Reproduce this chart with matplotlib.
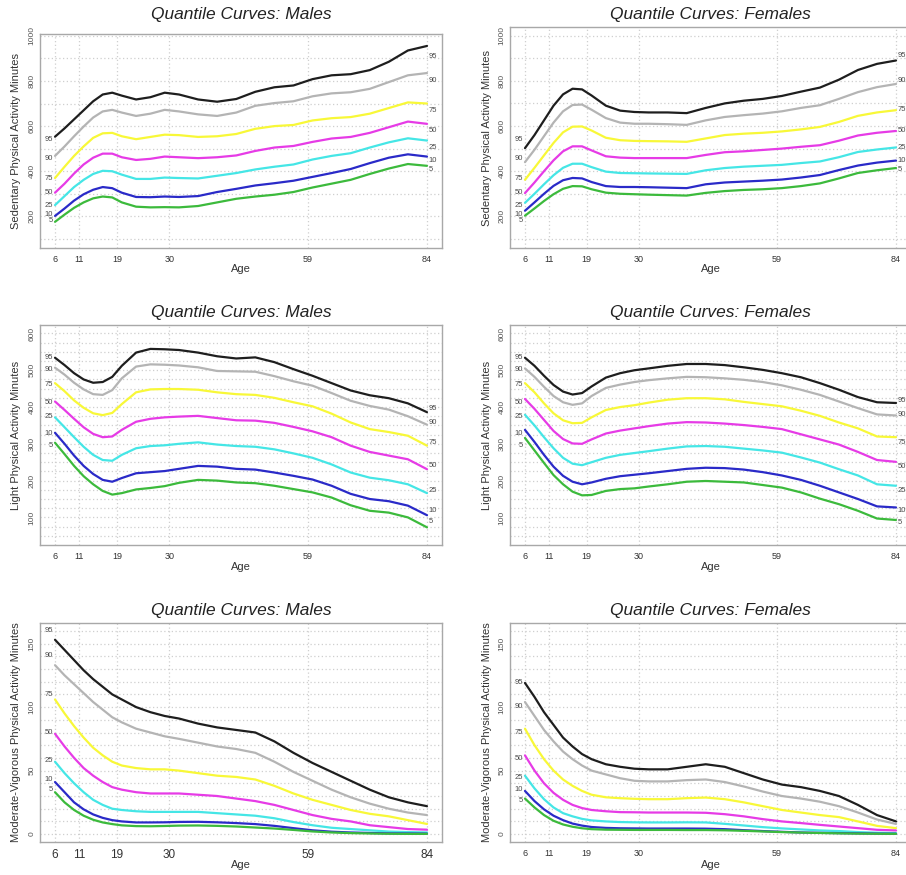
"""
Quantile curves of sedentary, light and moderate-vigorous activity by age and sex
"""

import matplotlib
matplotlib.use('Agg')
import matplotlib.pyplot as plt

plt.rcParams['font.family'] = ['Liberation Sans', 'DejaVu Sans']

# ---- data ----
ages = [6, 8, 10, 12, 14, 16, 18, 20, 23, 26, 29, 32, 36, 40, 44, 48, 52, 56, 60, 64, 68, 72, 76, 80, 84]
quantiles = ['95', '90', '75', '50', '25', '10', '5']
age_ticks = [6, 11, 19, 30, 59, 84]

sed_males = {
    '95': [553, 590, 630, 670, 710, 740, 748, 735, 718, 728, 748, 740, 718, 708, 720, 752, 772, 780, 808, 825, 830, 848, 885, 935, 955],
    '90': [468, 510, 555, 598, 638, 665, 672, 660, 645, 655, 672, 665, 652, 645, 660, 690, 702, 710, 732, 745, 750, 765, 795, 825, 835],
    '75': [370, 420, 468, 510, 548, 568, 570, 555, 542, 552, 562, 560, 552, 555, 565, 588, 600, 605, 625, 635, 640, 655, 680, 705, 700],
    '50': [305, 345, 390, 430, 460, 478, 478, 462, 450, 455, 465, 462, 458, 462, 470, 490, 505, 512, 530, 545, 552, 570, 595, 620, 610],
    '25': [250, 290, 330, 362, 388, 402, 400, 385, 366, 366, 372, 370, 368, 380, 392, 408, 420, 430, 452, 468, 480, 505, 528, 546, 536],
    '10': [202, 235, 270, 298, 318, 330, 325, 305, 286, 285, 288, 286, 290, 308, 322, 337, 347, 358, 375, 392, 410, 436, 460, 475, 465],
    '5':  [176, 208, 238, 262, 280, 288, 284, 262, 243, 240, 241, 240, 246, 262, 278, 288, 296, 308, 328, 345, 362, 388, 412, 432, 424],
}

sed_females = {
    '95': [502, 560, 625, 690, 740, 765, 762, 735, 690, 668, 662, 660, 660, 657, 680, 700, 712, 720, 733, 752, 770, 805, 848, 875, 890],
    '90': [440, 495, 555, 615, 665, 693, 695, 672, 635, 615, 610, 610, 608, 605, 625, 640, 648, 655, 665, 680, 692, 720, 750, 772, 786],
    '75': [362, 415, 470, 525, 572, 597, 598, 580, 548, 537, 534, 533, 532, 530, 545, 560, 566, 570, 576, 585, 596, 618, 645, 660, 670],
    '50': [303, 350, 400, 448, 488, 510, 510, 492, 466, 460, 458, 458, 458, 458, 472, 484, 488, 494, 500, 508, 515, 535, 558, 570, 578],
    '25': [260, 300, 342, 382, 415, 433, 433, 418, 398, 392, 391, 390, 389, 388, 404, 414, 420, 424, 428, 436, 443, 462, 485, 496, 505],
    '10': [225, 262, 300, 335, 360, 370, 368, 352, 334, 330, 330, 329, 327, 325, 342, 350, 354, 358, 363, 372, 383, 405, 425, 438, 447],
    '5':  [203, 235, 268, 298, 322, 334, 333, 320, 305, 300, 298, 296, 294, 292, 304, 312, 317, 320, 325, 334, 346, 368, 392, 404, 414],
}

light_males = {
    '95': [534, 514, 492, 475, 466, 468, 482, 512, 548, 558, 557, 555, 548, 538, 532, 535, 522, 503, 485, 465, 445, 432, 424, 410, 386],
    '90': [507, 488, 466, 448, 435, 433, 446, 478, 510, 516, 515, 513, 508, 498, 497, 496, 484, 470, 458, 438, 417, 403, 393, 375, 352],
    '75': [465, 443, 418, 398, 383, 378, 384, 408, 440, 448, 449, 449, 447, 440, 435, 433, 425, 413, 402, 382, 358, 340, 332, 322, 295],
    '50': [415, 392, 368, 345, 327, 318, 320, 338, 360, 368, 372, 374, 376, 370, 364, 363, 357, 346, 334, 318, 295, 278, 268, 258, 231],
    '25': [372, 345, 318, 292, 270, 256, 254, 270, 288, 294, 296, 300, 304, 298, 294, 292, 285, 274, 262, 244, 222, 208, 201, 190, 166],
    '10': [330, 300, 268, 240, 218, 202, 197, 207, 220, 223, 226, 232, 240, 238, 232, 230, 222, 213, 203, 186, 164, 150, 144, 132, 106],
    '5':  [303, 272, 240, 212, 190, 172, 162, 166, 176, 180, 185, 194, 202, 200, 195, 193, 186, 177, 168, 154, 133, 118, 113, 100, 73],
}

light_females = {
    '95': [534, 512, 485, 460, 442, 434, 438, 456, 480, 492, 500, 505, 512, 517, 517, 514, 508, 501, 492, 481, 465, 447, 427, 413, 411],
    '90': [505, 482, 455, 430, 413, 406, 410, 430, 452, 461, 468, 473, 478, 482, 481, 478, 474, 468, 459, 447, 433, 415, 397, 380, 377],
    '75': [465, 440, 410, 383, 364, 356, 357, 372, 392, 400, 405, 412, 420, 424, 424, 421, 414, 408, 402, 390, 376, 358, 342, 320, 318],
    '50': [422, 395, 365, 335, 313, 301, 300, 312, 328, 336, 342, 348, 355, 359, 358, 355, 351, 346, 340, 326, 312, 298, 278, 256, 251],
    '25': [379, 350, 318, 288, 262, 246, 242, 250, 262, 270, 275, 280, 287, 293, 294, 292, 287, 282, 276, 263, 249, 231, 214, 190, 186],
    '10': [338, 305, 270, 238, 213, 197, 190, 195, 205, 212, 216, 220, 226, 232, 235, 234, 230, 223, 214, 202, 186, 168, 150, 130, 127],
    '5':  [316, 282, 248, 215, 190, 170, 160, 161, 172, 177, 179, 184, 190, 197, 199, 197, 195, 188, 181, 168, 151, 136, 118, 97, 93],
}

mvpa_males = {
    '95': [153, 145, 137, 129, 122, 116, 110, 106, 100, 96, 93, 91, 87, 84, 82, 80, 73, 64, 56, 49, 42, 35, 29, 25, 22],
    '90': [133, 125, 118, 111, 104, 98, 92, 88, 83, 80, 77, 75, 72, 69, 67, 64, 57, 49, 42, 35, 29, 24, 20, 17, 15],
    '75': [106, 95, 85, 76, 68, 62, 57, 54, 52, 51, 51, 50, 48, 46, 45, 43, 38, 32, 27, 23, 19, 16, 14, 11, 8],
    '50': [79, 69, 60, 52, 46, 41, 37, 35, 33, 32, 32, 32, 31, 30, 28, 26, 23, 19, 15, 12, 10, 7, 5.5, 4, 3.5],
    '25': [57, 48, 40, 33, 27, 23, 20, 19, 18, 17.5, 17.5, 17.5, 17.5, 16.5, 15.5, 14.5, 12.5, 9.5, 7, 5, 4, 3, 2, 1.6, 1.3],
    '10': [41, 33, 25, 19.5, 15.5, 12.8, 11, 10, 9.2, 9.2, 9.3, 9.6, 9.7, 9.3, 8.7, 7.9, 6.5, 4.7, 3, 1.9, 1.3, 0.9, 0.6, 0.5, 0.4],
    '5':  [33, 25, 19, 14.5, 11.3, 9.2, 7.9, 6.9, 6.3, 6.2, 6.4, 6.7, 6.8, 6.5, 6, 5.2, 4.4, 3.3, 2.1, 1.3, 0.8, 0.5, 0.3, 0.2, 0.2],
}

mvpa_females = {
    '95': [119, 108, 96, 86, 76, 69, 63, 59, 55, 53, 51.5, 51, 51, 53, 55, 53, 48, 43, 39, 37, 34, 30, 23, 15, 10],
    '90': [104, 93, 82, 73, 65, 59, 54, 50, 47, 44, 42, 41.5, 41.5, 42.5, 43, 41, 37.5, 33.5, 30, 28, 25.5, 22, 17, 11.5, 8],
    '75': [83, 70, 59, 50, 43, 38, 34, 31, 29, 28.3, 27.8, 27.5, 27.5, 28.3, 28.8, 27.5, 25, 22, 19, 17, 15, 13.4, 10, 6.5, 4.7],
    '50': [62, 50, 40, 32.5, 27, 23, 20.5, 19, 18, 17.3, 17.2, 17, 17, 17, 16.8, 15.7, 14, 11.8, 10, 8.7, 7.3, 6, 4.7, 3.4, 2.9],
    '25': [46, 36, 27.5, 21, 16.5, 14, 12, 10.8, 10, 9.5, 9.3, 9.2, 9.2, 9.3, 9.2, 8.1, 6.8, 5.5, 4.5, 3.7, 2.9, 2.4, 1.6, 1.1, 0.8],
    '10': [34, 26, 19.5, 14.5, 11, 8.3, 6.7, 5.6, 4.9, 4.6, 4.5, 4.4, 4.4, 4.4, 4.3, 3.9, 3.1, 2.4, 1.8, 1.3, 1, 0.8, 0.6, 0.4, 0.3],
    '5':  [28, 21, 15, 10.5, 7.6, 5.8, 4.6, 3.9, 3.5, 3.4, 3.3, 3.3, 3.3, 3.2, 3.2, 3, 2.6, 2.1, 1.6, 1.2, 0.9, 0.6, 0.4, 0.3, 0.2],
}

# ---- styling ----
colors = {'95': '#1e1e1e', '90': '#b4b4b4', '75': '#f8f838', '50': '#e63be6',
          '25': '#45e6e6', '10': '#2a2ac8', '5': '#3cba3c'}
grid_color = '#cfcfcf'
frame_color = '#a8a8a8'
label_color = '#4a4a4a'

W, H = 906, 875
fig = plt.figure(figsize=(W / 100, H / 100), dpi=100, facecolor='white')


def add_axes_px(left, top, right, bottom):
    return fig.add_axes([left / W, 1 - bottom / H, (right - left) / W, (bottom - top) / H])


def draw_panel(box, data, title, title_y, ylabel, ylim, yticks, ystep,
               left_off, right_off, xtick_size=6.5, xlabel_gap=21):
    ax = add_axes_px(*box)
    w_px = box[2] - box[0]
    h_px = box[3] - box[1]

    # grid (R style dotted)
    for a in age_ticks:
        ax.axvline(a, color=grid_color, linestyle=(0, (1, 2)), linewidth=0.9, zorder=1)
    g = ystep * int(ylim[0] // ystep + 1)
    while g < ylim[1]:
        ax.axhline(g, color=grid_color, linestyle=(0, (1, 2)), linewidth=0.9, zorder=1)
        g += ystep

    for q in quantiles:
        ax.plot(ages, data[q], color=colors[q], linewidth=1.6, zorder=3,
                solid_joinstyle='round', solid_capstyle='round')

    # quantile labels at both ends
    for i, q in enumerate(quantiles):
        ax.annotate(q, (ages[0], data[q][0]), xytext=(-1.5, left_off[i]),
                    textcoords='offset points', ha='right', va='center',
                    fontsize=5.5, color=label_color, zorder=4)
        if right_off is not None:
            ax.annotate(q, (ages[-1], data[q][-1]), xytext=(1.0, right_off[i]),
                        textcoords='offset points', ha='left', va='center',
                        fontsize=5.5, color=label_color, zorder=4, annotation_clip=False)

    ax.set_xlim(2.85, 87.15)
    ax.set_ylim(*ylim)
    ax.set_xticks(age_ticks)
    ax.set_yticks(yticks)
    ax.tick_params(axis='x', length=0, pad=5, labelsize=xtick_size, labelcolor='#333333')
    ax.tick_params(axis='y', length=0, pad=3, labelsize=6, labelcolor='#555555')
    for lab in ax.get_yticklabels():
        lab.set_rotation(90)
        lab.set_va('center')
    for s in ax.spines.values():
        s.set_color(frame_color)
        s.set_linewidth(1.0)

    ax.set_xlabel('Age', fontsize=8, color='#333333')
    ax.xaxis.label.set_va('center')
    ax.xaxis.set_label_coords(0.5, -xlabel_gap / h_px)
    ax.set_ylabel(ylabel, fontsize=8, color='#333333')
    ax.yaxis.label.set_va('center')
    ax.yaxis.set_label_coords(-23.5 / w_px, 0.5)

    fig.text((box[0] + box[2]) / 2 / W, 1 - title_y / H, title, fontsize=12.5,
             style='italic', ha='center', va='center', color='#222222')
    return ax


sed_ticks = [200, 400, 600, 800, 1000]
light_ticks = [100, 200, 300, 400, 500, 600]
mvpa_ticks = [0, 50, 100, 150]

draw_panel((40, 34, 442, 248), sed_males, 'Quantile Curves: Males', 15,
           'Sedentary Physical Activity Minutes', (60, 1008), sed_ticks, 100,
           [-2.3, -1.6, -0.5, 0.2, -0.2, 1.0, 0.8],
           [-7.3, -5.4, -4.7, -4.6, -5.0, -2.9, -2.9])
draw_panel((510, 27.5, 911, 248), sed_females, 'Quantile Curves: Females', 15,
           'Sedentary Physical Activity Minutes', (60, 1036), sed_ticks, 100,
           [6.0, 2.9, 0.8, 0.5, -1.8, -2.8, -3.6],
           [3.3, 2.6, 0.2, 0.7, 0.0, 0.0, -1.3])

draw_panel((40, 325, 442, 545), light_males, 'Quantile Curves: Males', 312.7,
           'Light Physical Activity Minutes', (25, 623), light_ticks, 25,
           [0.3, -1.3, -0.8, -0.8, 0.5, -0.5, -1.9],
           [2.7, 1.9, 2.1, 2.4, 2.1, 3.7, 4.2], xlabel_gap=21.7)
draw_panel((510, 325, 911, 545), light_females, 'Quantile Curves: Females', 312.7,
           'Light Physical Activity Minutes', (25, 623), light_ticks, 25,
           [0.3, -0.8, -0.8, -2.7, -1.3, -2.7, -5.3],
           [1.6, 0.5, -4.0, -3.6, -3.7, -2.4, -2.1], xlabel_gap=21.7)

draw_panel((40, 623, 442, 842), mvpa_males, 'Quantile Curves: Males', 610,
           'Moderate-Vigorous Physical Activity Minutes', (-6.2, 166.2), mvpa_ticks, 10,
           [6.4, 6.9, 3.3, 0.9, 0.6, 2.1, 1.7], None, xtick_size=8.5, xlabel_gap=23)
draw_panel((510, 623, 911, 842), mvpa_females, 'Quantile Curves: Females', 610,
           'Moderate-Vigorous Physical Activity Minutes', (-6.2, 166.2), mvpa_ticks, 10,
           [0.5, -3.2, -2.5, -2.0, -1.1, 0.8, -1.4], None, xlabel_gap=23)

fig.savefig('out.png', dpi=100, facecolor='white')
plt.close(fig)
